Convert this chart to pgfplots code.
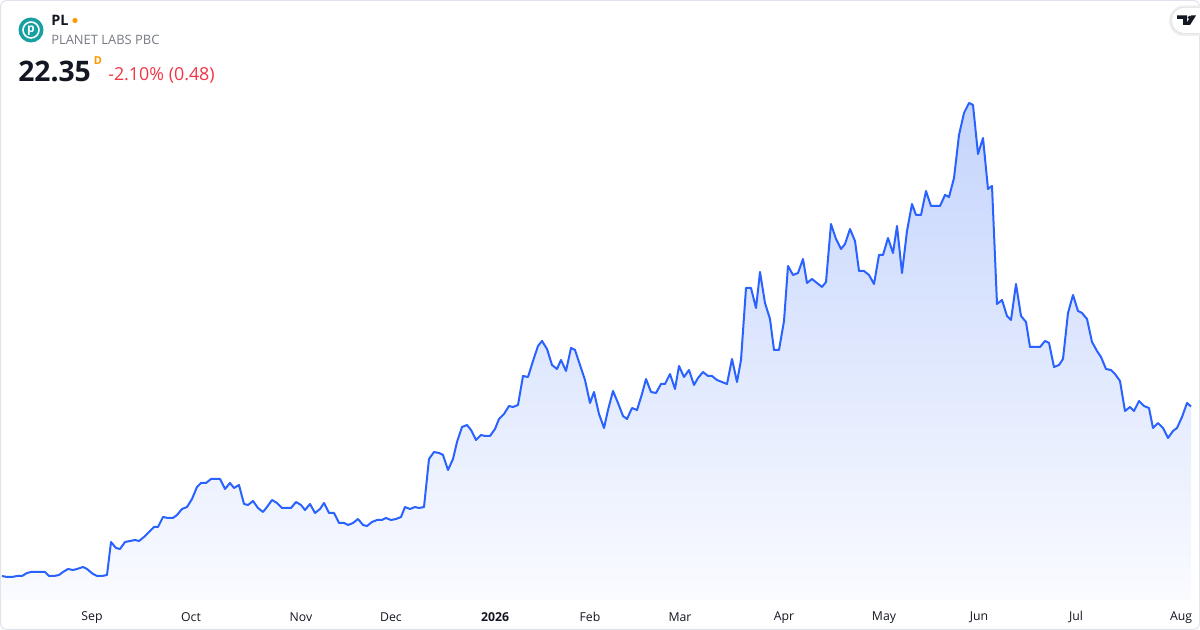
\documentclass[border=0pt]{standalone}
\usepackage{fontspec}
\setmainfont{Open Sans}
\usepackage{pgfplots}
\pgfplotsset{compat=1.18}
\usepackage{pgfplotstable}

\definecolor{tvblue}{HTML}{2962FF}
\definecolor{tvtext}{HTML}{131722}
\definecolor{tvgray}{HTML}{787B86}
\definecolor{tvred}{HTML}{F23645}
\definecolor{tvorange}{HTML}{FF9800}
\definecolor{tvborder}{HTML}{E0E3EB}
\definecolor{logoteal}{HTML}{16A0A2}
\definecolor{filltop}{RGB}{196,212,252}
\definecolor{fillbot}{RGB}{250,251,255}

\pgfplotstableread{
x p
2 5.4
7 5.3
12 5.3
17 5.4
22 5.4
27 5.7
31 5.8
35 5.8
40 5.8
45 5.8
49 5.4
54 5.4
59 5.5
63 5.8
68 6.1
73 6.0
77 6.1
83 6.3
87 6.1
93 5.6
97 5.4
102 5.4
107 5.5
111 8.8
116 8.2
120 8.1
125 8.8
130 8.9
135 9.0
139 8.9
144 9.3
149 9.8
154 10.3
158 10.3
163 11.3
168 11.2
173 11.2
177 11.5
182 12.1
187 12.3
192 13.1
197 14.3
201 14.7
206 14.7
211 15.1
215 15.1
220 15.1
225 14.1
230 14.7
234 14.2
239 14.5
244 12.6
248 12.5
253 12.9
258 12.2
263 11.8
267 12.3
272 13.0
277 12.7
282 12.2
287 12.2
291 12.2
296 12.8
301 12.5
305 12.0
310 12.6
315 11.7
320 12.1
324 12.7
329 11.7
334 11.7
339 10.7
344 10.7
348 10.5
353 10.7
358 11.1
363 10.5
367 10.4
372 10.8
377 11.0
382 11.0
386 11.2
391 11.0
396 11.1
401 11.3
405 12.3
410 12.1
415 12.3
419 12.2
424 12.3
429 17.1
434 17.8
439 17.7
443 17.5
448 16.0
453 17.1
457 18.8
462 20.3
467 20.5
471 20.0
476 19.0
481 19.5
485 19.4
490 19.4
495 20.1
499 21.1
504 21.6
509 22.4
513 22.3
518 22.5
523 25.4
528 25.3
533 26.9
538 28.4
542 28.9
547 28.1
552 26.5
557 26.1
561 27.0
566 25.9
571 28.2
575 28.0
580 26.5
585 25.0
590 22.7
594 23.8
599 21.6
604 20.2
608 22.0
613 23.9
618 22.7
623 21.4
627 21.1
632 22.2
637 22.0
642 23.6
646 25.1
651 23.8
656 23.7
661 24.6
665 24.6
670 25.6
675 24.1
679 26.4
684 25.3
689 26.0
694 24.5
698 25.2
703 25.8
708 25.4
712 25.4
717 25.0
722 24.8
727 24.6
732 27.1
737 24.8
741 27.0
746 34.2
751 34.2
756 32.2
760 35.8
765 32.7
770 31.1
774 28.0
779 28.0
784 30.9
788 36.4
793 35.5
798 35.7
803 37.1
807 34.7
812 35.1
817 34.7
822 34.3
826 34.8
831 40.6
836 39.1
841 38.1
845 38.6
850 40.1
855 38.9
859 35.9
864 35.9
869 35.5
874 34.6
879 37.5
883 37.5
888 39.2
893 37.7
897 40.4
902 35.7
907 39.9
912 42.6
916 41.5
921 41.5
926 43.9
931 42.4
935 42.4
940 42.4
945 43.5
949 43.3
954 45.2
959 49.5
964 51.7
969 52.7
973 52.5
978 47.6
983 49.2
988 44.1
992 44.4
997 32.6
1002 33.0
1007 31.4
1011 31.0
1016 34.6
1021 31.4
1026 30.8
1030 28.3
1035 28.3
1040 28.3
1045 28.9
1049 28.7
1054 26.3
1059 26.5
1063 27.1
1068 31.7
1073 33.5
1078 31.9
1082 31.7
1087 31.1
1092 28.8
1097 27.9
1101 27.3
1106 26.1
1111 26.0
1115 25.6
1120 24.9
1125 21.9
1130 22.3
1134 21.9
1139 22.9
1144 22.4
1149 22.2
1153 20.2
1158 20.7
1163 20.2
1168 19.2
1173 19.9
1177 20.2
1182 21.3
1187 22.7
1191 22.35
}\pricedata

\begin{document}
\begin{tikzpicture}
\fill[white] (0,0) rectangle (900pt,472.5pt);
\begin{axis}[
  at={(0,0)}, anchor=south west,
  scale only axis, width=900pt, height=472.5pt,
  xmin=0, xmax=1200, ymin=0, ymax=63,
  axis line style={draw=none}, tick style={draw=none},
  ytick=\empty,
  xtick={92,191,301,391,495,590,680,784,884,979,1076,1181},
  xticklabels={Sep,Oct,Nov,Dec,\textbf{2026},Feb,Mar,Apr,May,Jun,Jul,Aug},
  xticklabel style={anchor=center, yshift=9.5pt, inner sep=0pt,
    font=\fontsize{9.2}{10}\selectfont, text=tvtext},
]
\addplot[draw=none, top color=filltop, bottom color=fillbot] table[x=x,y=p] {\pricedata} -- (axis cs:1191,3) -- (axis cs:2,3) -- cycle;
\addplot[draw=tvblue, line width=1.5pt, line join=round] table[x=x,y=p] {\pricedata};
\end{axis}
\begin{scope}[x=0.75pt, y=-0.75pt, yshift=472.5pt]
  % frame
  \draw[tvborder, line width=0.75pt, rounded corners=4pt] (0.5,0.5) rectangle (1199.5,629.5);
  % logo
  \fill[logoteal] (31,30) circle (12.5);
  \draw[white, line width=1.2pt] (31,30) circle (8);
  \node[anchor=center, inner sep=0, text=white, font=\fontsize{9}{10}\selectfont\bfseries] at (31,30.5) {p};
  % header texts
  \node[anchor=base west, inner sep=0, text=tvtext, font=\fontsize{10.8}{12}\selectfont\bfseries] at (51,26) {PL};
  \fill[tvorange] (75,20.5) circle (2.6);
  \node[anchor=base west, inner sep=0, text=tvgray, font=\fontsize{9.7}{11}\selectfont] at (51,45) {PLANET LABS PBC};
  \node[anchor=base west, inner sep=0, text=tvtext, font=\fontsize{21.2}{24}\selectfont\bfseries] at (18,81.5) {22.35};
  \node[anchor=base west, inner sep=0, text=tvorange, font=\fontsize{8.2}{9}\selectfont\bfseries] at (93.5,65) {D};
  \node[anchor=base west, inner sep=0, text=tvred, font=\fontsize{13.4}{15}\selectfont] at (108,81) {-2.10\% (0.48)};
  % tradingview badge
  \begin{scope}
  \clip (0,0) rectangle (1200,630);
  \fill[black!6, rounded corners=11pt] (1169,5.5) rectangle (1214,36);
  \fill[black!10, rounded corners=10pt] (1170.5,7) rectangle (1214,34.5);
  \fill[white, rounded corners=9pt] (1172,8) rectangle (1214,33);
  \end{scope}
  \fill[tvtext] (1177,15.5) -- (1187,15.5) -- (1187,25) -- (1183,25) -- (1183,19) -- (1177,19) -- cycle;
  \fill[tvtext] (1189.5,17.5) circle (1.9);
  \fill[tvtext] (1191,15.5) -- (1196,15.5) -- (1190,25) -- (1185.5,25) -- cycle;
\end{scope}
\useasboundingbox (0,0) rectangle (900pt,472.5pt);
\end{tikzpicture}
\end{document}
